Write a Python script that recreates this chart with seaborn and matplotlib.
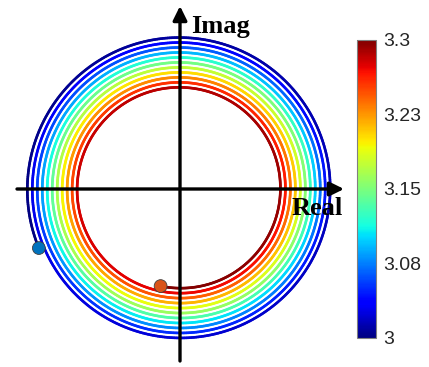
import numpy as np
import matplotlib
matplotlib.use("Agg")
import matplotlib.pyplot as plt
import seaborn as sns
import pandas as pd
from matplotlib.collections import LineCollection
from matplotlib.colors import Normalize
from matplotlib.cm import ScalarMappable

# ---- values ----
param_range = [3.0, 3.3]            # colour parameter along the trajectory
radius_range = [1.53, 0.99]         # radius at start / end of trajectory
angle_range_deg = [202.7, -3701.3]  # start / end angle (clockwise spiral, ~10.8 turns)
cbar_ticks = [3.0, 3.075, 3.15, 3.225, 3.3]
cbar_ticklabels = ["3", "3.08", "3.15", "3.23", "3.3"]
marker_names = ["start", "end"]
marker_colors = ["#0072BD", "#D95319"]
axis_labels = ["Real", "Imag"]

sns.set_style("white")
plt.rcParams['font.family'] = ['Liberation Sans', 'DejaVu Sans']

fig = plt.figure(figsize=(4.29, 3.67), dpi=100)
ax = fig.add_axes([0, 0, 350 / 429, 1])

# trajectory
n = 6000
t = np.linspace(0, 1, n)
p = param_range[0] + (param_range[1] - param_range[0]) * t
r = radius_range[0] + (radius_range[1] - radius_range[0]) * t
th = np.deg2rad(angle_range_deg[0] + (angle_range_deg[1] - angle_range_deg[0]) * t)
x = r * np.cos(th)
y = r * np.sin(th)
pts = np.column_stack([x, y]).reshape(-1, 1, 2)
segs = np.concatenate([pts[:-1], pts[1:]], axis=1)
norm = Normalize(param_range[0], param_range[1])
lc = LineCollection(segs, cmap="jet", norm=norm, linewidths=1.9, zorder=2,
                    capstyle="round")
lc.set_array(0.5 * (p[:-1] + p[1:]))
ax.add_collection(lc)

# axes arrows
arrow_kw = dict(arrowstyle="-|>,head_length=0.85,head_width=0.42", lw=2.4,
                color="black", shrinkA=0, shrinkB=0, mutation_scale=10)
ax.annotate("", xy=(1.64, 0), xytext=(-1.63, 0), arrowprops=arrow_kw, zorder=3)
ax.annotate("", xy=(0, 1.83), xytext=(0, -1.72), arrowprops=arrow_kw, zorder=3)

ax.text(1.12, -0.26, axis_labels[0], family="Liberation Serif", fontweight="bold",
        fontsize=19, va="baseline", ha="left", color="black", zorder=4)
ax.text(0.11, 1.56, axis_labels[1], family="Liberation Serif", fontweight="bold",
        fontsize=19, va="baseline", ha="left", color="black", zorder=4)

# start / end markers
df = pd.DataFrame({"x": [x[0], x[-1]], "y": [y[0], y[-1]], "name": marker_names})
sns.scatterplot(data=df, x="x", y="y", hue="name", palette=marker_colors, s=85,
                edgecolor="#404040", linewidth=0.6, legend=False, ax=ax, zorder=5)
ax.set_xlim(-1.80, 1.70)
ax.set_ylim(-1.78, 1.89)
ax.axis("off")

# colorbar
cax = fig.add_axes([357 / 429, 29 / 367, 19 / 429, 298 / 367])
sm = ScalarMappable(norm=norm, cmap="jet")
cb = fig.colorbar(sm, cax=cax, ticks=cbar_ticks)
cb.set_ticklabels(cbar_ticklabels)
cb.outline.set_edgecolor("#808080")
cb.outline.set_linewidth(0.8)
cax.tick_params(axis="y", direction="in", length=3, width=0.6, color="#606060",
                labelsize=14, labelcolor="#262626", pad=5)

fig.savefig("out.png", dpi=100)
